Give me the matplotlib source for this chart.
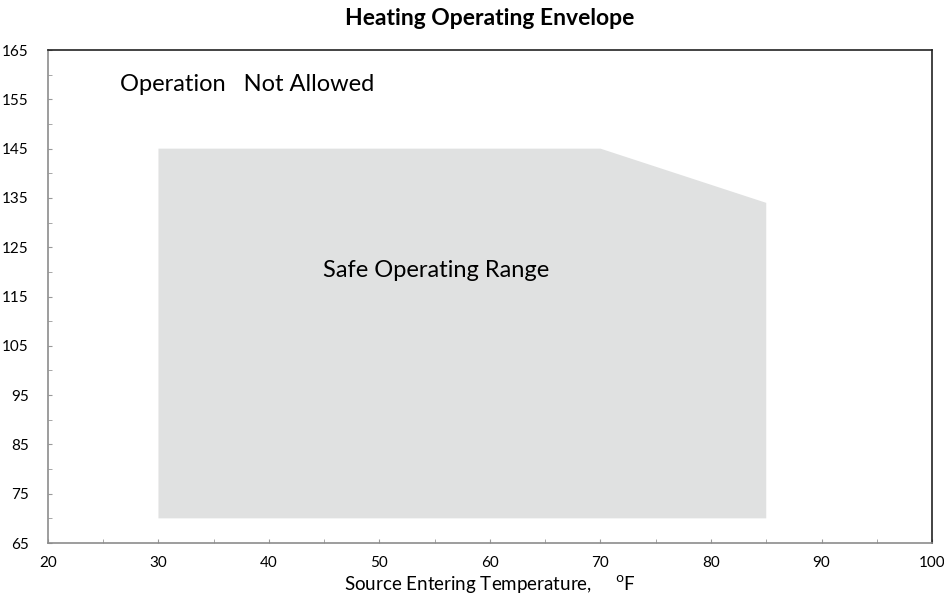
import numpy as np
import matplotlib.pyplot as plt
from matplotlib.ticker import MultipleLocator

plt.rcParams['font.family'] = ['Lato', 'DejaVu Sans']

# envelope corners (source entering temp, leaving temp)
env_x = [30, 30, 70, 85, 85]
env_y = [70, 145, 145, 134, 70]

x_ticks = np.arange(20, 101, 10)
y_ticks = np.arange(65, 166, 10)

fig = plt.figure(figsize=(9.44, 6.03), dpi=100)
ax = fig.add_axes([0.0508, 0.0995, 0.9365, 0.8175])

ax.fill(env_x, env_y, color='#e0e1e1', lw=0)

ax.set_xlim(20, 100)
ax.set_ylim(65, 165)
ax.set_xticks(x_ticks)
ax.set_yticks(y_ticks)
ax.xaxis.set_minor_locator(MultipleLocator(5))
ax.yaxis.set_minor_locator(MultipleLocator(5))
ax.tick_params(which='both', direction='in', length=3, color='#999999', labelsize=11)
ax.tick_params(axis='x', pad=9)
ax.tick_params(axis='y', pad=14)

for s in ['left', 'bottom']:
    ax.spines[s].set_color('#8c8c8c')
for s in ['top', 'right']:
    ax.spines[s].set_color('#222222')
for s in ax.spines.values():
    s.set_linewidth(1.2)

ax.text(26.5, 158, 'Operation   Not Allowed', fontsize=17, va='center', ha='left')
ax.text(55.1, 120.2, 'Safe Operating Range', fontsize=17, va='center', ha='center')

ax.set_xlabel(r'Source Entering Temperature,     $^{\mathrm{o}}$F', fontsize=13.5, labelpad=3)
fig.text(0.519, 0.97, 'Heating Operating Envelope', fontsize=16.5, fontweight='bold',
         ha='center', va='center')

fig.savefig('out.png', dpi=100)
